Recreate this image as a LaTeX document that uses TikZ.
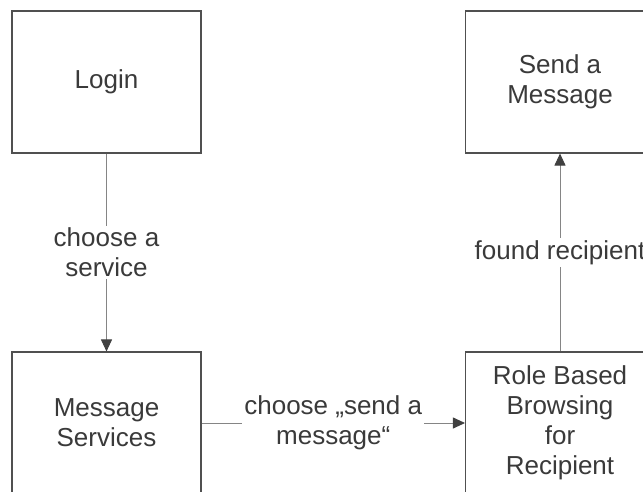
\documentclass[tikz,border=0pt]{standalone}
\usepackage{fontspec}
\setmainfont{Liberation Sans}
\usetikzlibrary{arrows.meta}
\definecolor{boxline}{HTML}{505050}
\definecolor{txt}{HTML}{3A3A3A}
\definecolor{conn}{HTML}{858585}
\definecolor{tipcol}{HTML}{404040}
\tikzset{
  x=1pt, y=1pt,
  statebox/.style={draw=boxline, line width=1.1pt, fill=white,
    minimum width=189pt, minimum height=142pt, inner sep=0pt,
    align=center, text=txt, font=\fontsize{26}{30}\selectfont},
  flow/.style={draw=conn, line width=0.9pt,
    -{Triangle[length=12pt,width=11pt,fill=tipcol,color=tipcol]}},
  flowlabel/.style={fill=white, text=txt, align=center, inner sep=2pt,
    font=\fontsize{26}{30}\selectfont}
}
\begin{document}
\begin{tikzpicture}
\useasboundingbox (0,0) rectangle (643,-491);
\fill[white] (0,0) rectangle (643,-491);

\node[statebox] (login)    at (106.5,-82)  {Login};
\node[statebox] (send)     at (560,-82)    {Send a\\Message};
\node[statebox] (services) at (106.5,-423) {Message\\Services};
\node[statebox] (role)     at (560,-423)   {Role Based\\Browsing\\for\\Recipient};

\draw[flow] (login) -- node[flowlabel, midway] {choose a\\service} (services);
\draw[flow] (services) -- node[flowlabel, midway] {choose „send a\\message“} (role);
\draw[flow] (role) -- node[flowlabel, midway] {found recipient} (send);
\end{tikzpicture}
\end{document}
